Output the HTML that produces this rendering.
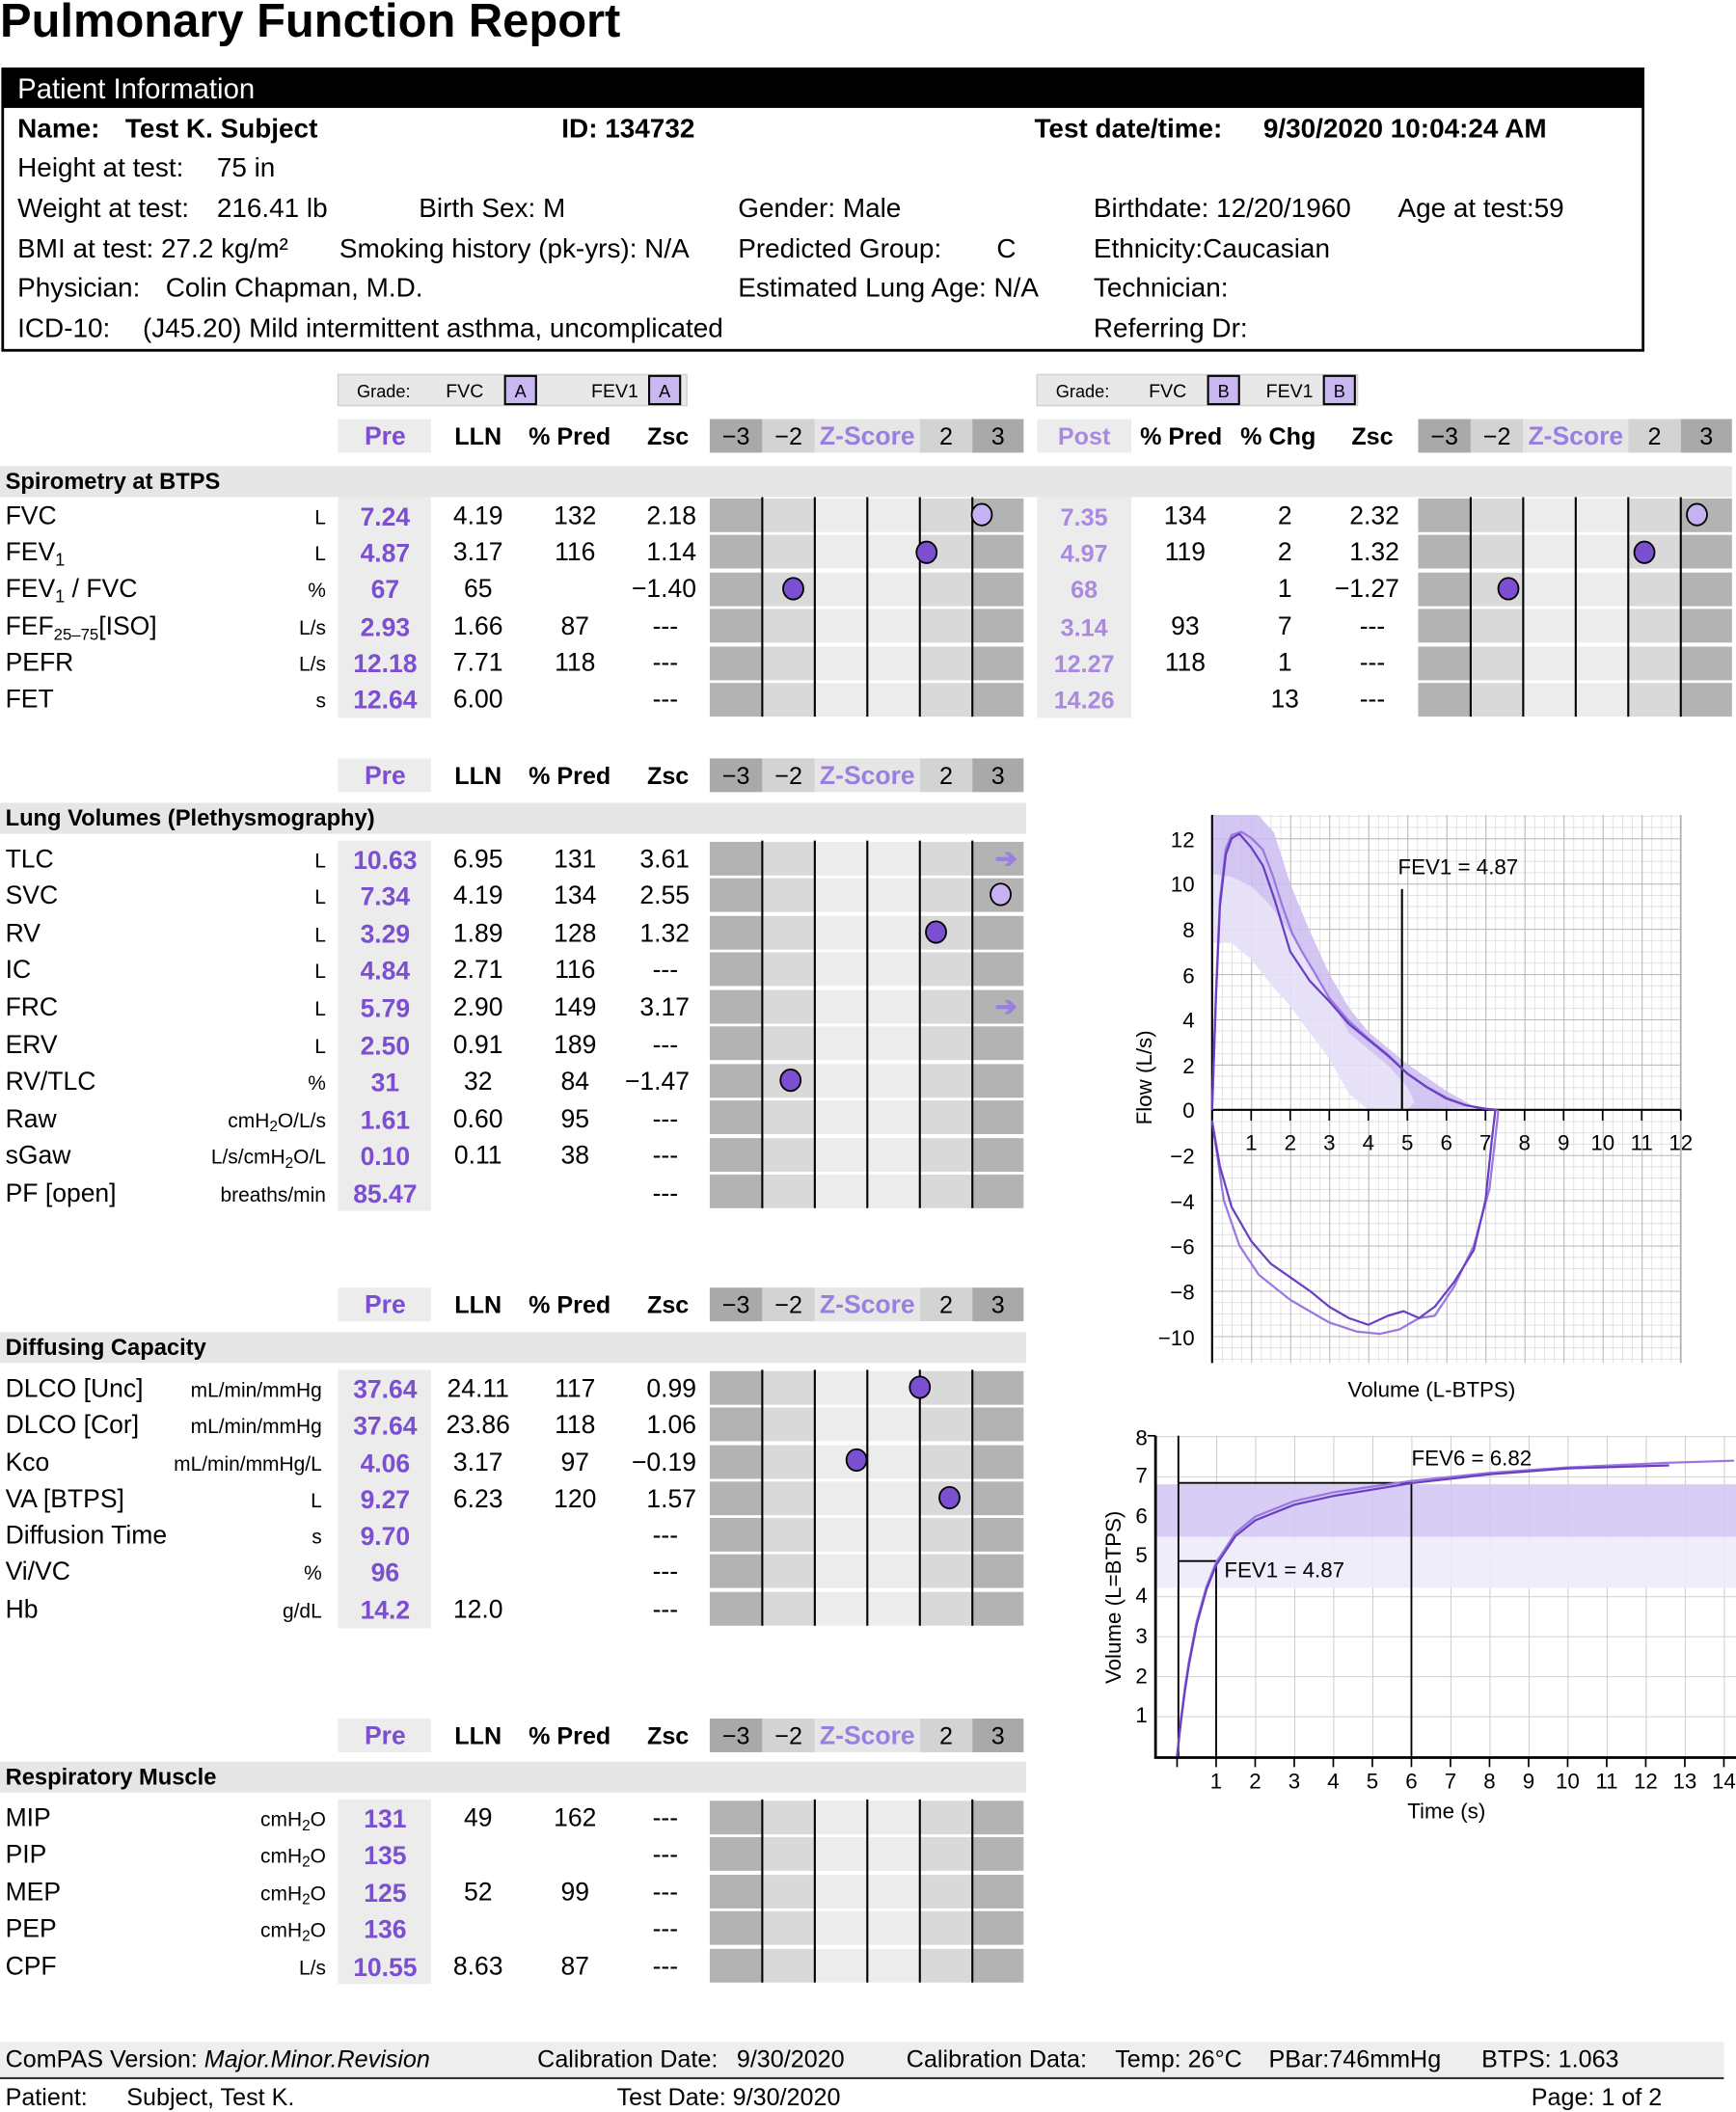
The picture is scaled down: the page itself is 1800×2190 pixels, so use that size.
<!DOCTYPE html>
<html><head><meta charset="utf-8"><style>
html,body{margin:0;padding:0;background:#fff;}
svg{display:block;font-family:"Liberation Sans",Arial,sans-serif;}
.b{font-weight:bold}
.t{font-size:19px}
.u{font-size:15px;text-anchor:end}
.c{text-anchor:middle}
.e{text-anchor:end}
.pv{fill:#7b4fd0;font-weight:bold;text-anchor:middle;font-size:19px}
.po{fill:#a98ae0;font-weight:bold;text-anchor:middle;font-size:18px}
.p{font-size:20px}
.ax{font-size:16px}
</style></head><body>
<svg width="1800" height="2190" viewBox="0 0 1289 1568" xmlns="http://www.w3.org/2000/svg">
<defs>
<g id="zb"><rect x="0" y="0" width="39" height="25" fill="#b3b3b3"/><rect x="39" y="0" width="39" height="25" fill="#d9d9d9"/><rect x="78" y="0" width="78" height="25" fill="#ececec"/><rect x="156" y="0" width="39" height="25" fill="#d9d9d9"/><rect x="195" y="0" width="38" height="25" fill="#b3b3b3"/></g>
<g id="zh"><rect x="0" y="0" width="39" height="25" fill="#a9a9a9"/><rect x="39" y="0" width="39" height="25" fill="#d3d3d3"/><rect x="78" y="0" width="78" height="25" fill="#e6e6e6"/><rect x="156" y="0" width="39" height="25" fill="#d3d3d3"/><rect x="195" y="0" width="38" height="25" fill="#a9a9a9"/>
<text x="19.5" y="19" class="c" font-size="18">−3</text><text x="58.5" y="19" class="c" font-size="18">−2</text><text x="117" y="19" class="c b" font-size="19" fill="#9b7fe0">Z-Score</text><text x="175.5" y="19" class="c" font-size="18">2</text><text x="214" y="19" class="c" font-size="18">3</text></g>
<g id="hdr"><rect x="251" y="0" width="69" height="25" fill="#ececec"/><text x="286" y="19" class="pv" font-size="19">Pre</text><text x="355" y="19" class="c b" font-size="18">LLN</text><text x="423" y="19" class="c b" font-size="18">% Pred</text><text x="496" y="19" class="c b" font-size="18">Zsc</text><use href="#zh" x="527" y="0"/></g>
<pattern id="fmin" patternUnits="userSpaceOnUse" x="900" y="824" width="7.25" height="8.4"><path d="M0 0V8.4M0 0H7.25" stroke="#d8d8d8" stroke-width="1" fill="none"/></pattern>
<pattern id="fmaj" patternUnits="userSpaceOnUse" x="900" y="824" width="29" height="33.6"><path d="M0 0V33.6M0 0H29" stroke="#b4b4b4" stroke-width="1.3" fill="none"/></pattern>
<pattern id="vmaj" patternUnits="userSpaceOnUse" x="874" y="1304" width="29" height="29.7"><path d="M0 0V29.7M0 0H29" stroke="#c8c8c8" stroke-width="1.3" fill="none"/></pattern>
</defs>

<text x="0" y="27" class="b" font-size="35">Pulmonary Function Report</text>

<rect x="2" y="51" width="1218" height="209" fill="none" stroke="#000" stroke-width="2"/>
<rect x="2" y="50" width="1218" height="30" fill="#000"/>
<text x="13" y="73" fill="#fff" font-size="21">Patient Information</text>
<g class="p">
<text x="13" y="102" class="b">Name:</text><text x="93" y="102" class="b">Test K. Subject</text>
<text x="417" y="102" class="b">ID: 134732</text>
<text x="768" y="102" class="b">Test date/time:</text><text x="938" y="102" class="b">9/30/2020 10:04:24 AM</text>
<text x="13" y="131">Height at test:</text><text x="161" y="131">75 in</text>
<text x="13" y="161">Weight at test:</text><text x="161" y="161">216.41 lb</text>
<text x="311" y="161">Birth Sex: M</text>
<text x="548" y="161">Gender: Male</text>
<text x="812" y="161">Birthdate: 12/20/1960</text>
<text x="1038" y="161">Age at test:59</text>
<text x="13" y="191">BMI at test: 27.2 kg/m²</text>
<text x="252" y="191">Smoking history (pk-yrs): N/A</text>
<text x="548" y="191">Predicted Group:</text><text x="740" y="191">C</text>
<text x="812" y="191">Ethnicity:Caucasian</text>
<text x="13" y="220">Physician:</text><text x="123" y="220">Colin Chapman, M.D.</text>
<text x="548" y="220">Estimated Lung Age: N/A</text>
<text x="812" y="220">Technician:</text>
<text x="13" y="250">ICD-10:</text><text x="106" y="250">(J45.20) Mild intermittent asthma, uncomplicated</text>
<text x="812" y="250">Referring Dr:</text>
</g>

<rect x="251" y="278" width="259" height="23" fill="#e8e8e8" stroke="#d0d0d0"/>
<text x="265" y="295" font-size="13">Grade:</text><text x="331" y="295" font-size="14">FVC</text>
<rect x="375" y="279" width="23" height="21" fill="#c9b8f0" stroke="#000" stroke-width="1.5"/><text x="386.5" y="295" class="c" font-size="13">A</text>
<text x="439" y="295" font-size="14">FEV1</text>
<rect x="482" y="279" width="23" height="21" fill="#c9b8f0" stroke="#000" stroke-width="1.5"/><text x="493.5" y="295" class="c" font-size="13">A</text>
<rect x="770" y="278" width="238" height="23" fill="#e8e8e8" stroke="#d0d0d0"/>
<text x="784" y="295" font-size="13">Grade:</text><text x="853" y="295" font-size="14">FVC</text>
<rect x="897" y="279" width="23" height="21" fill="#c9b8f0" stroke="#000" stroke-width="1.5"/><text x="908.5" y="295" class="c" font-size="13">B</text>
<text x="940" y="295" font-size="14">FEV1</text>
<rect x="983" y="279" width="23" height="21" fill="#c9b8f0" stroke="#000" stroke-width="1.5"/><text x="994.5" y="295" class="c" font-size="13">B</text>

<use href="#hdr" x="0" y="311"/>
<rect x="770" y="311" width="70" height="25" fill="#ececec"/><text x="805" y="330" class="po">Post</text>
<text x="877" y="330" class="c b" font-size="18">% Pred</text><text x="949" y="330" class="c b" font-size="18">% Chg</text><text x="1019" y="330" class="c b" font-size="18">Zsc</text>
<use href="#zh" x="1053" y="311"/>
<rect x="0" y="346" width="1286" height="23" fill="#e6e6e6"/>
<text x="4" y="363" class="b" font-size="17">Spirometry at BTPS</text>
<rect x="251" y="369" width="69" height="164" fill="#ececec"/>
<rect x="770" y="369" width="70" height="164" fill="#ececec"/>
<g>
<use href="#zb" x="527" y="370"/><use href="#zb" x="527" y="397"/><use href="#zb" x="527" y="425"/><use href="#zb" x="527" y="452"/><use href="#zb" x="527" y="480"/><use href="#zb" x="527" y="507"/>
<use href="#zb" x="1053" y="370"/><use href="#zb" x="1053" y="397"/><use href="#zb" x="1053" y="425"/><use href="#zb" x="1053" y="452"/><use href="#zb" x="1053" y="480"/><use href="#zb" x="1053" y="507"/>
<path d="M566 369V532M605 369V532M644 369V532M683 369V532M722 369V532M1092 369V532M1131 369V532M1170 369V532M1209 369V532M1248 369V532" stroke="#000" stroke-width="1.5"/>
</g>
<g class="t">
<text x="4" y="389">FVC</text><text x="242" y="389" class="u">L</text><text x="286" y="390" class="pv">7.24</text><text x="355" y="389" class="c">4.19</text><text x="427" y="389" class="c">132</text><text x="517" y="389" class="e">2.18</text>
<text x="805" y="390" class="po">7.35</text><text x="880" y="389" class="c">134</text><text x="954" y="389" class="c">2</text><text x="1039" y="389" class="e">2.32</text>
<text x="4" y="416">FEV<tspan font-size="13" dy="4">1</tspan></text><text x="242" y="416" class="u">L</text><text x="286" y="417" class="pv">4.87</text><text x="355" y="416" class="c">3.17</text><text x="427" y="416" class="c">116</text><text x="517" y="416" class="e">1.14</text>
<text x="805" y="417" class="po">4.97</text><text x="880" y="416" class="c">119</text><text x="954" y="416" class="c">2</text><text x="1039" y="416" class="e">1.32</text>
<text x="4" y="443">FEV<tspan font-size="13" dy="4">1</tspan><tspan dy="-4"> / FVC</tspan></text><text x="242" y="443" class="u">%</text><text x="286" y="444" class="pv">67</text><text x="355" y="443" class="c">65</text><text x="517" y="443" class="e">−1.40</text>
<text x="805" y="444" class="po">68</text><text x="954" y="443" class="c">1</text><text x="1039" y="443" class="e">−1.27</text>
<text x="4" y="471">FEF<tspan font-size="12" dy="4">25–75</tspan><tspan dy="-4">[ISO]</tspan></text><text x="242" y="471" class="u">L/s</text><text x="286" y="472" class="pv">2.93</text><text x="355" y="471" class="c">1.66</text><text x="427" y="471" class="c">87</text><text x="494" y="471" class="c">---</text>
<text x="805" y="472" class="po">3.14</text><text x="880" y="471" class="c">93</text><text x="954" y="471" class="c">7</text><text x="1019" y="471" class="c">---</text>
<text x="4" y="498">PEFR</text><text x="242" y="498" class="u">L/s</text><text x="286" y="499" class="pv">12.18</text><text x="355" y="498" class="c">7.71</text><text x="427" y="498" class="c">118</text><text x="494" y="498" class="c">---</text>
<text x="805" y="499" class="po">12.27</text><text x="880" y="498" class="c">118</text><text x="954" y="498" class="c">1</text><text x="1019" y="498" class="c">---</text>
<text x="4" y="525">FET</text><text x="242" y="525" class="u">s</text><text x="286" y="526" class="pv">12.64</text><text x="355" y="525" class="c">6.00</text><text x="494" y="525" class="c">---</text>
<text x="805" y="526" class="po">14.26</text><text x="954" y="525" class="c">13</text><text x="1019" y="525" class="c">---</text>
</g>
<g stroke="#000" stroke-width="1.3">
<ellipse cx="729" cy="382" rx="7.5" ry="8" fill="#c6b2f2"/><ellipse cx="688" cy="410" rx="7.5" ry="8" fill="#7b4fd0"/><ellipse cx="589" cy="437" rx="7.5" ry="8" fill="#7b4fd0"/>
<ellipse cx="1260" cy="382" rx="7.5" ry="8" fill="#c6b2f2"/><ellipse cx="1221" cy="410" rx="7.5" ry="8" fill="#7b4fd0"/><ellipse cx="1120" cy="437" rx="7.5" ry="8" fill="#7b4fd0"/>
</g>

<use href="#hdr" x="0" y="563"/>
<rect x="0" y="596" width="762" height="23" fill="#e6e6e6"/>
<text x="4" y="613" class="b" font-size="17">Lung Volumes (Plethysmography)</text>
<rect x="251" y="624" width="69" height="275" fill="#ececec"/>
<use href="#zb" x="527" y="625"/><use href="#zb" x="527" y="652"/><use href="#zb" x="527" y="680"/><use href="#zb" x="527" y="707"/><use href="#zb" x="527" y="735"/><use href="#zb" x="527" y="762"/><use href="#zb" x="527" y="790"/><use href="#zb" x="527" y="817"/><use href="#zb" x="527" y="845"/><use href="#zb" x="527" y="872"/>
<path d="M566 624V897M605 624V897M644 624V897M683 624V897M722 624V897" stroke="#000" stroke-width="1.5"/>
<g class="t">
<text x="4" y="644">TLC</text><text x="242" y="644" class="u">L</text><text x="286" y="645" class="pv">10.63</text><text x="355" y="644" class="c">6.95</text><text x="427" y="644" class="c">131</text><text x="512" y="644" class="e">3.61</text>
<text x="4" y="671">SVC</text><text x="242" y="671" class="u">L</text><text x="286" y="672" class="pv">7.34</text><text x="355" y="671" class="c">4.19</text><text x="427" y="671" class="c">134</text><text x="512" y="671" class="e">2.55</text>
<text x="4" y="699">RV</text><text x="242" y="699" class="u">L</text><text x="286" y="700" class="pv">3.29</text><text x="355" y="699" class="c">1.89</text><text x="427" y="699" class="c">128</text><text x="512" y="699" class="e">1.32</text>
<text x="4" y="726">IC</text><text x="242" y="726" class="u">L</text><text x="286" y="727" class="pv">4.84</text><text x="355" y="726" class="c">2.71</text><text x="427" y="726" class="c">116</text><text x="494" y="726" class="c">---</text>
<text x="4" y="754">FRC</text><text x="242" y="754" class="u">L</text><text x="286" y="755" class="pv">5.79</text><text x="355" y="754" class="c">2.90</text><text x="427" y="754" class="c">149</text><text x="512" y="754" class="e">3.17</text>
<text x="4" y="782">ERV</text><text x="242" y="782" class="u">L</text><text x="286" y="783" class="pv">2.50</text><text x="355" y="782" class="c">0.91</text><text x="427" y="782" class="c">189</text><text x="494" y="782" class="c">---</text>
<text x="4" y="809">RV/TLC</text><text x="242" y="809" class="u">%</text><text x="286" y="810" class="pv">31</text><text x="355" y="809" class="c">32</text><text x="427" y="809" class="c">84</text><text x="512" y="809" class="e">−1.47</text>
<text x="4" y="837">Raw</text><text x="242" y="837" class="u">cmH<tspan font-size="11" dy="3">2</tspan><tspan dy="-3">O/L/s</tspan></text><text x="286" y="838" class="pv">1.61</text><text x="355" y="837" class="c">0.60</text><text x="427" y="837" class="c">95</text><text x="494" y="837" class="c">---</text>
<text x="4" y="864">sGaw</text><text x="242" y="864" class="u">L/s/cmH<tspan font-size="11" dy="3">2</tspan><tspan dy="-3">O/L</tspan></text><text x="286" y="865" class="pv">0.10</text><text x="355" y="864" class="c">0.11</text><text x="427" y="864" class="c">38</text><text x="494" y="864" class="c">---</text>
<text x="4" y="892">PF [open]</text><text x="242" y="892" class="u">breaths/min</text><text x="286" y="893" class="pv">85.47</text><text x="494" y="892" class="c">---</text>
</g>
<g stroke="#000" stroke-width="1.3">
<ellipse cx="743" cy="664" rx="7.5" ry="8" fill="#c6b2f2"/><ellipse cx="695" cy="692" rx="7.5" ry="8" fill="#7b4fd0"/><ellipse cx="587" cy="802" rx="7.5" ry="8" fill="#7b4fd0"/>
</g>
<text x="747" y="644" class="c b" font-size="20" fill="#9b7fe0">➔</text>
<text x="747" y="754" class="c b" font-size="20" fill="#9b7fe0">➔</text>

<use href="#hdr" x="0" y="956"/>
<rect x="0" y="989" width="762" height="23" fill="#e6e6e6"/>
<text x="4" y="1006" class="b" font-size="17">Diffusing Capacity</text>
<rect x="251" y="1017" width="69" height="192" fill="#ececec"/>
<use href="#zb" x="527" y="1018"/><use href="#zb" x="527" y="1045"/><use href="#zb" x="527" y="1073"/><use href="#zb" x="527" y="1100"/><use href="#zb" x="527" y="1127"/><use href="#zb" x="527" y="1154"/><use href="#zb" x="527" y="1182"/>
<path d="M566 1017V1207M605 1017V1207M644 1017V1207M683 1017V1207M722 1017V1207" stroke="#000" stroke-width="1.5"/>
<g class="t">
<text x="4" y="1037">DLCO [Unc]</text><text x="239" y="1037" class="u">mL/min/mmHg</text><text x="286" y="1038" class="pv">37.64</text><text x="355" y="1037" class="c">24.11</text><text x="427" y="1037" class="c">117</text><text x="517" y="1037" class="e">0.99</text>
<text x="4" y="1064">DLCO [Cor]</text><text x="239" y="1064" class="u">mL/min/mmHg</text><text x="286" y="1065" class="pv">37.64</text><text x="355" y="1064" class="c">23.86</text><text x="427" y="1064" class="c">118</text><text x="517" y="1064" class="e">1.06</text>
<text x="4" y="1092">Kco</text><text x="239" y="1092" class="u">mL/min/mmHg/L</text><text x="286" y="1093" class="pv">4.06</text><text x="355" y="1092" class="c">3.17</text><text x="427" y="1092" class="c">97</text><text x="517" y="1092" class="e">−0.19</text>
<text x="4" y="1119">VA [BTPS]</text><text x="239" y="1119" class="u">L</text><text x="286" y="1120" class="pv">9.27</text><text x="355" y="1119" class="c">6.23</text><text x="427" y="1119" class="c">120</text><text x="517" y="1119" class="e">1.57</text>
<text x="4" y="1146">Diffusion Time</text><text x="239" y="1146" class="u">s</text><text x="286" y="1147" class="pv">9.70</text><text x="494" y="1146" class="c">---</text>
<text x="4" y="1173">Vi/VC</text><text x="239" y="1173" class="u">%</text><text x="286" y="1174" class="pv">96</text><text x="494" y="1173" class="c">---</text>
<text x="4" y="1201">Hb</text><text x="239" y="1201" class="u">g/dL</text><text x="286" y="1202" class="pv">14.2</text><text x="355" y="1201" class="c">12.0</text><text x="494" y="1201" class="c">---</text>
</g>
<g stroke="#000" stroke-width="1.3">
<ellipse cx="683" cy="1030" rx="7.5" ry="8" fill="#7b4fd0"/><ellipse cx="636" cy="1084" rx="7.5" ry="8" fill="#7b4fd0"/><ellipse cx="705" cy="1112" rx="7.5" ry="8" fill="#7b4fd0"/>
</g>

<use href="#hdr" x="0" y="1276"/>
<rect x="0" y="1308" width="762" height="23" fill="#e6e6e6"/>
<text x="4" y="1325" class="b" font-size="17">Respiratory Muscle</text>
<rect x="251" y="1336" width="69" height="137" fill="#ececec"/>
<use href="#zb" x="527" y="1337"/><use href="#zb" x="527" y="1364"/><use href="#zb" x="527" y="1392"/><use href="#zb" x="527" y="1419"/><use href="#zb" x="527" y="1447"/>
<path d="M566 1336V1472M605 1336V1472M644 1336V1472M683 1336V1472M722 1336V1472" stroke="#000" stroke-width="1.5"/>
<g class="t">
<text x="4" y="1356">MIP</text><text x="242" y="1356" class="u">cmH<tspan font-size="11" dy="3">2</tspan><tspan dy="-3">O</tspan></text><text x="286" y="1357" class="pv">131</text><text x="355" y="1356" class="c">49</text><text x="427" y="1356" class="c">162</text><text x="494" y="1356" class="c">---</text>
<text x="4" y="1383">PIP</text><text x="242" y="1383" class="u">cmH<tspan font-size="11" dy="3">2</tspan><tspan dy="-3">O</tspan></text><text x="286" y="1384" class="pv">135</text><text x="494" y="1383" class="c">---</text>
<text x="4" y="1411">MEP</text><text x="242" y="1411" class="u">cmH<tspan font-size="11" dy="3">2</tspan><tspan dy="-3">O</tspan></text><text x="286" y="1412" class="pv">125</text><text x="355" y="1411" class="c">52</text><text x="427" y="1411" class="c">99</text><text x="494" y="1411" class="c">---</text>
<text x="4" y="1438">PEP</text><text x="242" y="1438" class="u">cmH<tspan font-size="11" dy="3">2</tspan><tspan dy="-3">O</tspan></text><text x="286" y="1439" class="pv">136</text><text x="494" y="1438" class="c">---</text>
<text x="4" y="1466">CPF</text><text x="242" y="1466" class="u">L/s</text><text x="286" y="1467" class="pv">10.55</text><text x="355" y="1466" class="c">8.63</text><text x="427" y="1466" class="c">87</text><text x="494" y="1466" class="c">---</text>
</g>

<rect x="900" y="605" width="348" height="407" fill="url(#fmin)"/>
<rect x="900" y="605" width="348" height="407" fill="url(#fmaj)"/>
<path d="M1248 605V1012" stroke="#b4b4b4" stroke-width="1.3"/>
<polygon points="900,605 934,605 946,618 958,656 972,690 987,723 1001.5,748 1016,766 1030.5,778 1045,790 1059.5,800 1074,810 1088.5,818 1096,822 1045,824 1050,818 1045,807 1030.5,791 1016,779 1001.5,767 987,740 972,717 958,693 943,672 929,658 914,651 900,649" fill="#cbbcf0" opacity="0.85"/>
<polygon points="900,649 914,651 929,658 943,672 958,693 972,717 987,740 1001.5,767 1016,779 1030.5,791 1045,807 1050,818 1045,824 1016,824 1001.5,812 987,786 972,766 958,747 943,730 929,712 914,700 900,700" fill="#e6dff8" opacity="0.9"/>
<path d="M900 605V1012M900 824H1248" stroke="#000" stroke-width="1.5"/>
<path d="M929 824v8M958 824v8M987 824v8M1016 824v8M1045 824v8M1074 824v8M1103 824v8M1132 824v8M1161 824v8M1190 824v8M1219 824v8M1248 824v8" stroke="#000" stroke-width="1.2"/>
<g class="ax">
<text x="887" y="629" class="e">12</text><text x="887" y="662" class="e">10</text><text x="887" y="696" class="e">8</text><text x="887" y="730" class="e">6</text><text x="887" y="763" class="e">4</text><text x="887" y="797" class="e">2</text><text x="887" y="830" class="e">0</text><text x="887" y="864" class="e">−2</text><text x="887" y="898" class="e">−4</text><text x="887" y="931" class="e">−6</text><text x="887" y="965" class="e">−8</text><text x="887" y="999" class="e">−10</text>
<text x="929" y="854" class="c">1</text><text x="958" y="854" class="c">2</text><text x="987" y="854" class="c">3</text><text x="1016" y="854" class="c">4</text><text x="1045" y="854" class="c">5</text><text x="1074" y="854" class="c">6</text><text x="1103" y="854" class="c">7</text><text x="1132" y="854" class="c">8</text><text x="1161" y="854" class="c">9</text><text x="1190" y="854" class="c">10</text><text x="1219" y="854" class="c">11</text><text x="1248" y="854" class="c">12</text>
<text x="0" y="0" class="c" transform="translate(855,800) rotate(-90)">Flow (L/s)</text>
<text x="1063" y="1037" class="c">Volume (L-BTPS)</text>
<text x="1038" y="649">FEV1 = 4.87</text>
</g>
<path d="M1041 660V824" stroke="#000" stroke-width="1.5"/>
<g fill="none" stroke-width="1.6" stroke-linejoin="round">
<polyline stroke="#9a78e0" points="900,824 902.9,736 905.8,668 910.2,630 914.5,620 921.7,617.5 929,622 937.7,630.8 945,650 952.2,672.8 959.5,693 966.7,706.4 976,722 987,741 1001.5,758 1016,771 1030.5,783 1045,797 1059.5,807 1074,815 1088.5,820.6 1103,823.2 1111.7,824"/>
<polyline stroke="#6a3fc4" points="900,824 902.9,740 905.8,672.8 910.2,634.2 914.5,622.4 920.3,619 929,629.1 937.7,642.6 946.4,667.8 958,706.4 972.5,728.2 987,743.4 1001.5,760.2 1016,771.9 1030.5,783.7 1045,797.1 1059.5,807.2 1074,815.6 1088.5,820.6 1103,823.2 1111.7,824"/>
<polyline stroke="#9a78e0" points="900,832 908.7,891.2 920.3,924.8 934.8,946.6 958,965.1 987,981.9 1007.3,988.6 1024.7,990.3 1039.2,987 1053.7,978.6 1065.3,976.9 1079.8,955 1094.3,924.8 1105.9,882.8 1111.7,832.4 1112.5,824"/>
<polyline stroke="#6a3fc4" points="900,832.4 905.8,866 914.5,896.2 929,921.4 943.5,938.2 958,948.3 972.5,958.4 987,970.2 1001.5,978.6 1016,983.6 1030.5,976.9 1042.1,973.5 1053.7,978.6 1065.3,970.2 1079.8,951.7 1094.3,928.2 1103,891.2 1107.4,849.2 1110.3,824"/>
</g>

<rect x="858" y="1066" width="431" height="239" fill="url(#vmaj)"/>
<rect x="858" y="1102" width="431" height="39" fill="#d3c8f4" opacity="0.9"/>
<rect x="858" y="1141" width="431" height="38" fill="#eeebf9" opacity="0.9"/>
<path d="M858 1066V1305H1289" stroke="#000" stroke-width="2" fill="none"/>
<path d="M852 1066h6" stroke="#000" stroke-width="1.2"/>
<path d="M874 1305v7M903 1305v7M932 1305v7M961 1305v7M990 1305v7M1019 1305v7M1048 1305v7M1077 1305v7M1106 1305v7M1135 1305v7M1164 1305v7M1193 1305v7M1222 1305v7M1251 1305v7M1280 1305v7" stroke="#000" stroke-width="1.2"/>
<path d="M875 1066V1305M875 1159H903V1305M875 1101H1048V1305" stroke="#000" stroke-width="1.3" fill="none"/>
<g class="ax">
<text x="852" y="1073" class="e">8</text><text x="852" y="1101" class="e">7</text><text x="852" y="1131" class="e">6</text><text x="852" y="1160" class="e">5</text><text x="852" y="1190" class="e">4</text><text x="852" y="1220" class="e">3</text><text x="852" y="1250" class="e">2</text><text x="852" y="1279" class="e">1</text>
<text x="903" y="1328" class="c">1</text><text x="932" y="1328" class="c">2</text><text x="961" y="1328" class="c">3</text><text x="990" y="1328" class="c">4</text><text x="1019" y="1328" class="c">5</text><text x="1048" y="1328" class="c">6</text><text x="1077" y="1328" class="c">7</text><text x="1106" y="1328" class="c">8</text><text x="1135" y="1328" class="c">9</text><text x="1164" y="1328" class="c">10</text><text x="1193" y="1328" class="c">11</text><text x="1222" y="1328" class="c">12</text><text x="1251" y="1328" class="c">13</text><text x="1280" y="1328" class="c">14</text>
<text x="0" y="0" class="c" transform="translate(832,1186) rotate(-90)">Volume (L=BTPS)</text>
<text x="1074" y="1350" class="c">Time (s)</text>
<text x="1048" y="1088">FEV6 = 6.82</text>
<text x="909" y="1171">FEV1 = 4.87</text>
</g>
<g fill="none" stroke-width="1.6">
<polyline stroke="#9a78e0" points="874,1304 876.9,1276 879.8,1253 882.7,1234 888.5,1204 895.8,1178 903,1160 917.5,1138 932,1126 961,1114.5 990,1108 1048,1099.5 1106,1093.5 1164,1089.5 1239.4,1086 1287.5,1084.5"/>
<polyline stroke="#6a3fc4" points="874,1304 876.9,1277.9 879.8,1255.6 882.7,1236.6 888.5,1206.6 895.8,1180.2 903,1162 917.5,1140.4 932,1128.8 961,1117.2 990,1110.7 1048,1101.2 1106,1094.6 1164,1090.2 1239.4,1088"/>
</g>

<rect x="0" y="1516" width="1280" height="26" fill="#eeeeee"/>
<path d="M0 1543H1280" stroke="#333" stroke-width="1.5"/>
<g font-size="18">
<text x="4" y="1535">ComPAS Version: <tspan font-style="italic">Major.Minor.Revision</tspan></text>
<text x="399" y="1535">Calibration Date:</text><text x="547" y="1535">9/30/2020</text>
<text x="673" y="1535">Calibration Data:</text>
<text x="828" y="1535">Temp: 26°C</text>
<text x="942" y="1535">PBar:746mmHg</text>
<text x="1100" y="1535">BTPS: 1.063</text>
<text x="4" y="1563">Patient:</text>
<text x="94" y="1563">Subject, Test K.</text>
<text x="458" y="1563">Test Date: 9/30/2020</text>
<text x="1137" y="1563">Page: 1 of 2</text>
</g>
</svg>
</body></html>
